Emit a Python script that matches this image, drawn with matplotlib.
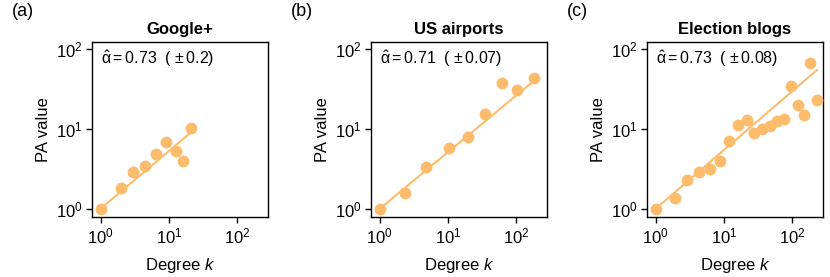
"""PA function estimates for three networks on log-log axes."""

import matplotlib
matplotlib.use("Agg")
import matplotlib.pyplot as plt

plt.rcParams["font.family"] = ["Liberation Sans", "DejaVu Sans"]
plt.rcParams["mathtext.fontset"] = "custom"
plt.rcParams["mathtext.rm"] = "Liberation Sans"
plt.rcParams["mathtext.it"] = "Liberation Sans:italic"
plt.rcParams["mathtext.default"] = "regular"

ORANGE = "#FDBB6C"

titles = ["Google+", "US airports", "Election blogs"]
panel_tags = ["(a)", "(b)", "(c)"]
alpha_text = ["0.73", "0.71", "0.73"]
alpha_err = ["0.2", "0.07", "0.08"]

# observed PA values
k_gplus = [1, 2.0, 2.95, 4.45, 6.4, 9.0, 12.6, 16.2, 21]
pa_gplus = [1, 1.83, 2.9, 3.48, 4.9, 6.8, 5.25, 4.0, 10.2]

k_air = [1, 2.39, 4.75, 10.2, 19.3, 34.4, 62, 103, 178]
pa_air = [1, 1.58, 3.3, 5.8, 7.9, 15.4, 37.6, 30.4, 43.4]

k_blog = [1, 1.94, 2.89, 4.32, 6.2, 8.7, 11.9, 16.1, 21.4, 27.8,
          36.2, 47, 59.8, 75, 94.5, 119, 147, 183, 230]
pa_blog = [1, 1.37, 2.28, 2.87, 3.19, 4.02, 7.15, 11.1, 12.8, 8.8,
           10, 10.8, 12.7, 13.5, 34.8, 19.8, 15.1, 66.8, 22.8]

# fitted power-law lines (endpoints)
fit_k = [[1, 21], [1, 186], [1, 229]]
fit_pa = [[1.0, 9.1], [1.0, 41], [1.0, 55]]

ks = [k_gplus, k_air, k_blog]
pas = [pa_gplus, pa_air, pa_blog]

fig = plt.figure(figsize=(8.3, 2.77), dpi=100)
lefts = [92, 371, 647]
for i in range(3):
    ax = fig.add_axes([lefts[i] / 830, 60 / 277, 176 / 830, 175 / 277])
    ax.plot(fit_k[i], fit_pa[i], color=ORANGE, lw=1.5, zorder=2)
    ax.plot(ks[i], pas[i], "o", color=ORANGE, ms=8.5, mec="none", zorder=3)
    ax.set_xscale("log")
    ax.set_yscale("log")
    ax.set_xlim(0.75, 280)
    ax.set_ylim(0.79, 123)
    ax.set_xticks([1, 10, 100])
    ax.set_yticks([1, 10, 100])
    ax.minorticks_off()
    ax.tick_params(labelsize=12, length=4, width=1, direction="out", pad=2.5)
    for s in ax.spines.values():
        s.set_linewidth(1.0)
    ax.set_title(titles[i], fontsize=12, fontweight="bold", pad=6)
    ax.set_xlabel("Degree $\\mathit{k}$", fontsize=12, labelpad=7)
    ax.set_ylabel("PA value", fontsize=12, labelpad=4)
    ax.text(0.05, 0.96,
            "$\\hat{\\alpha}=$" + alpha_text[i]
            + "  ( $\\pm\\,$" + alpha_err[i] + ")",
            transform=ax.transAxes, ha="left", va="top", fontsize=11.5)
    fig.text((lefts[i] - 80) / 830, 1 - 3 / 277, panel_tags[i],
             ha="left", va="top", fontsize=13)

fig.savefig("out.png", dpi=100)
